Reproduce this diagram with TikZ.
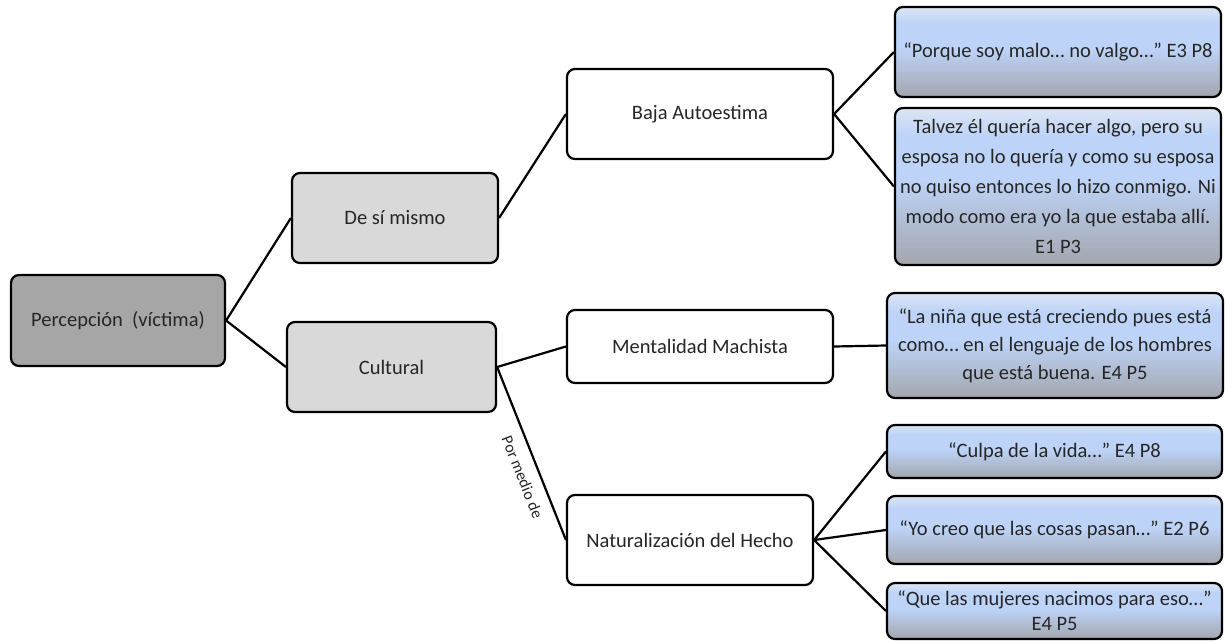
\documentclass[tikz,border=0pt]{standalone}
\usepackage{fontspec}
\setmainfont{Carlito}
\definecolor{qtop}{HTML}{DCE6F5}
\definecolor{qmid}{HTML}{BDD3F7}
\definecolor{qbot}{HTML}{A3A6AE}
\definecolor{darkfill}{HTML}{A6A6A6}
\definecolor{lightfill}{HTML}{D9D9D9}
\definecolor{txt}{HTML}{262626}
\pgfdeclareverticalshading{quoteshade}{100bp}{color(0bp)=(qbot); color(25bp)=(qbot); color(52bp)=(qmid); color(66bp)=(qmid); color(75bp)=(qtop); color(100bp)=(qtop)}
\begin{document}
\begin{tikzpicture}[x=1pt,y=-1pt,
  box/.style={draw=black, line width=2.2pt, rounded corners=8pt, align=center,
    text=txt, font=\fontsize{20.5}{30}\selectfont, inner sep=0pt},
  rootbox/.style={box, fill=darkfill},
  catbox/.style={box, fill=lightfill},
  subbox/.style={box, fill=white},
  quotebox/.style={box, shading=quoteshade},
  conn/.style={draw=black, line width=2.2pt}]
\useasboundingbox (0,0) rectangle (1225,640);
\clip (0,0) rectangle (1225,640);

\node[rootbox, minimum width=214pt, minimum height=91pt] (per) at (118,320.5) {Percepción\ \ (víctima)};
\node[catbox, minimum width=206pt, minimum height=90pt] (desi) at (395,218) {De sí mismo};
\node[catbox, minimum width=209pt, minimum height=90pt] (cult) at (391.5,367) {Cultural};

\node[subbox, minimum width=266pt, minimum height=90pt] (baja) at (700,114) {Baja Autoestima};
\node[subbox, minimum width=266pt, minimum height=73pt] (ment) at (700,346.5) {Mentalidad Machista};
\node[subbox, minimum width=246pt, minimum height=90pt] (nat) at (690,540) {Naturalización del Hecho};

\node[quotebox, minimum width=326pt, minimum height=90pt] (q1) at (1058,52) {“Porque soy malo… no valgo…” E3 P8};
\node[quotebox, minimum width=326pt, minimum height=157pt] (q2) at (1058,186.5) {Talvez él quería hacer algo, pero su\\esposa no lo quería y como su esposa\\no quiso entonces lo hizo conmigo. Ni\\modo como era yo la que estaba allí.\\E1 P3};
\node[quotebox, minimum width=336pt, minimum height=105pt, font=\fontsize{20.5}{28}\selectfont] (q3) at (1055,345.5) {“La niña que está creciendo pues está\\como… en el lenguaje de los hombres\\que está buena. E4 P5};
\node[quotebox, minimum width=335pt, minimum height=53pt] (q4) at (1054.5,451.5) {“Culpa de la vida…” E4 P8};
\node[quotebox, minimum width=335pt, minimum height=68pt] (q5) at (1054.5,530) {“Yo creo que las cosas pasan…” E2 P6};
\node[quotebox, minimum width=335pt, minimum height=56pt, font=\fontsize{20.5}{25}\selectfont] (q6) at (1054.5,611) {“Que las mujeres nacimos para eso…”\\E4 P5};

\draw[conn] (per.east) -- (desi.west);
\draw[conn] (per.east) -- (cult.west);
\draw[conn] (desi.east) -- (baja.west);
\draw[conn] (cult.east) -- (ment.west);
\draw[conn] (cult.east) -- node[pos=0.6, sloped, below=7pt, text=txt, font=\fontsize{16}{16}\selectfont] (lbl) {Por medio de} (nat.west);
\draw[conn] (baja.east) -- (q1.west);
\draw[conn] (baja.east) -- (q2.west);
\draw[conn] (ment.east) -- (q3.west);
\draw[conn] (nat.east) -- (q4.west);
\draw[conn] (nat.east) -- (q5.west);
\draw[conn] (nat.east) -- (q6.west);
\end{tikzpicture}
\end{document}
